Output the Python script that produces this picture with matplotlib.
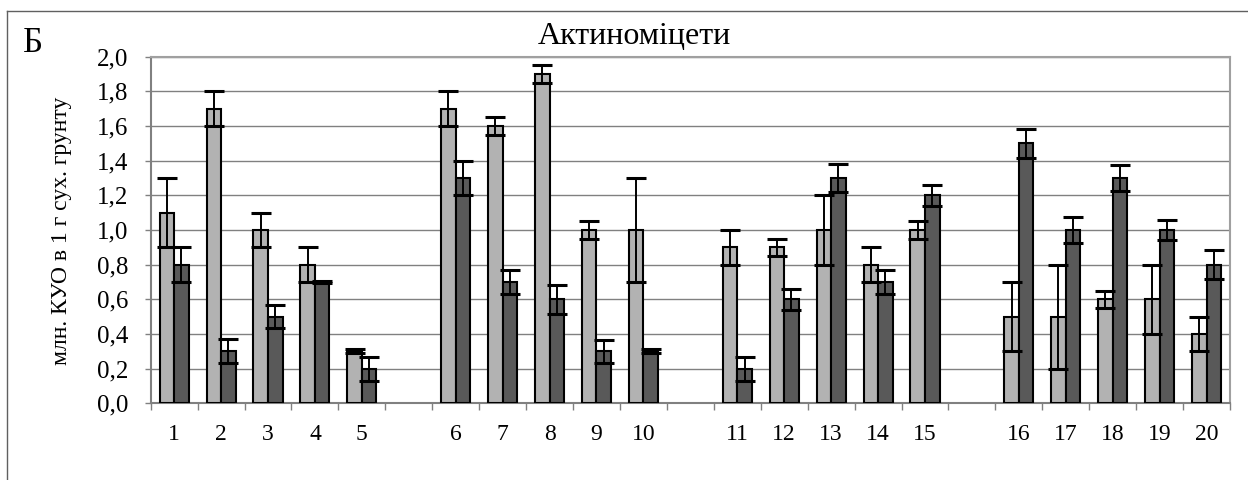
import matplotlib
matplotlib.use('Agg')
import matplotlib.pyplot as plt
from matplotlib.lines import Line2D
from matplotlib.ticker import FuncFormatter, FixedLocator
import numpy as np

# Data
labels = [str(i) for i in range(1, 21)]
light = [1.1, 1.7, 1.0, 0.8, 0.3,
         1.7, 1.6, 1.9, 1.0, 1.0,
         0.9, 0.9, 1.0, 0.8, 1.0,
         0.5, 0.5, 0.6, 0.6, 0.4]
light_err = [0.2, 0.1, 0.1, 0.1, 0.012,
             0.1, 0.05, 0.05, 0.05, 0.3,
             0.1, 0.05, 0.2, 0.1, 0.05,
             0.2, 0.3, 0.05, 0.2, 0.1]
dark = [0.8, 0.3, 0.5, 0.7, 0.2,
        1.3, 0.7, 0.6, 0.3, 0.3,
        0.2, 0.6, 1.3, 0.7, 1.2,
        1.5, 1.0, 1.3, 1.0, 0.8]
dark_err = [0.1, 0.07, 0.065, 0.005, 0.07,
            0.1, 0.07, 0.085, 0.065, 0.012,
            0.07, 0.06, 0.08, 0.07, 0.06,
            0.085, 0.075, 0.075, 0.06, 0.083]
group_size = 5

plt.rcParams['font.family'] = ['Liberation Serif', 'DejaVu Serif']

W, H = 1248, 480
fig = plt.figure(figsize=(W / 100, H / 100), dpi=100)
ax = fig.add_axes([150.7 / W, 1 - 403.3 / H, (1230 - 150.7) / W, (403.3 - 56.7) / H])

# one empty slot between groups of five
n = len(labels)
slots = np.array([i + i // group_size for i in range(n)]) + 0.5
w = 0.31

err_kw = dict(ecolor='black', elinewidth=1.4, capsize=7, capthick=2.2)
ax.bar(slots - w / 2, light, w, color='#b2b2b2', edgecolor='black', linewidth=1.5,
       yerr=light_err, error_kw=err_kw, zorder=3)
ax.bar(slots + w / 2, dark, w, color='#595959', edgecolor='black', linewidth=1.5,
       yerr=dark_err, error_kw=err_kw, zorder=3)

ax.set_xlim(0, slots[-1] + 0.5)
ax.set_ylim(0, 2.0)
ax.set_yticks(np.arange(0, 2.01, 0.2))
ax.yaxis.set_major_formatter(FuncFormatter(lambda v, p: f'{v:.1f}'.replace('.', ',')))
ax.grid(axis='y', color='#808080', linewidth=1.0, zorder=0)
ax.set_axisbelow(True)

# tick marks at slot boundaries, labels at bar centres
ax.xaxis.set_major_locator(FixedLocator(np.arange(0, slots[-1] + 0.6, 1)))
ax.xaxis.set_major_formatter(FuncFormatter(lambda v, p: ''))
ax.xaxis.set_minor_locator(FixedLocator(slots))
ax.set_xticklabels(labels, minor=True)
ax.tick_params(axis='x', which='major', direction='out', length=5, color='#808080', width=1)
ax.tick_params(axis='x', which='minor', length=0, pad=15, labelsize=17)
ax.tick_params(axis='y', direction='out', length=4, color='#808080', width=1, pad=12, labelsize=18)

for s in ax.spines.values():
    s.set_color('#a0a0a0')
    s.set_linewidth(1.5)
ax.spines['left'].set_color('#808080')
ax.spines['bottom'].set_color('#808080')

fig.text(634 / W, 1 - 37 / H, 'Актиноміцети', ha='center', va='center', fontsize=23)
fig.text(23 / W, 1 - 52 / H, 'Б', ha='left', va='baseline', fontsize=25)
fig.text(62 / W, 1 - 231 / H, 'млн. КУО в 1 г сух. грунту', rotation=90,
         ha='center', va='center', fontsize=17)

# outer frame (cut at right and bottom)
fig.add_artist(Line2D([7 / W, 1], [1 - 11 / H, 1 - 11 / H], color='#606060', linewidth=1))
fig.add_artist(Line2D([7 / W, 7 / W], [0, 1 - 11 / H], color='#606060', linewidth=1))

fig.savefig('out.png', dpi=100)
